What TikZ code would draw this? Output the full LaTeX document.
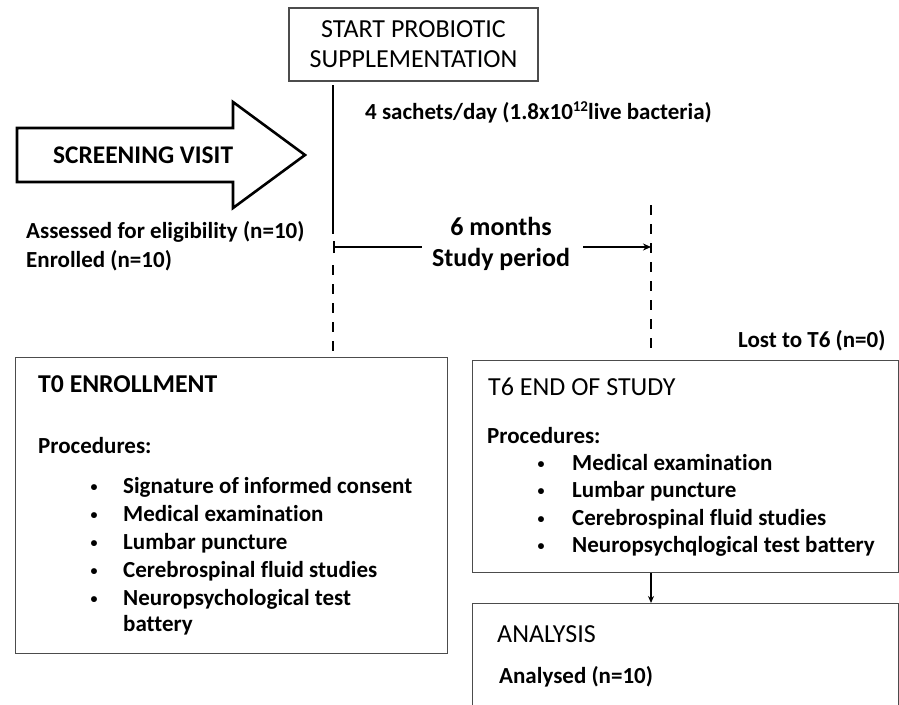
\documentclass[tikz,border=0pt]{standalone}
\usepackage{fontspec}
\setmainfont{Carlito}[Ligatures=NoCommon]
\usetikzlibrary{arrows.meta}

\tikzset{
  box/.style={draw=black!70, line width=1.1pt, inner sep=0pt},
  head/.style={anchor=base west, inner sep=0pt, font=\fontsize{26}{30}\selectfont},
  txt/.style={anchor=base west, inner sep=0pt, font=\bfseries\fontsize{23}{28}\selectfont},
  dot/.style={anchor=base, inner sep=0pt, font=\bfseries\fontsize{14}{16}\selectfont},
  dashline/.style={line width=1.6pt, dash pattern=on 10pt off 9pt},
}

\begin{document}
\begin{tikzpicture}[x=1pt, y=-1pt]
    \clip (0,0) rectangle (899,704);

    % start box and screening arrow
    \node[box, minimum width=249, minimum height=73, align=center,
      font=\fontsize{26}{30}\selectfont] (start) at (413.5,44.5)
      {START PROBIOTIC\\SUPPLEMENTATION};
    \draw[line width=2.6pt, line join=miter] (17,128) -- (233,128) -- (233,102) -- (305,155)
      -- (233,208) -- (233,182) -- (17,182) -- cycle;
    \node[txt, font=\bfseries\fontsize{25.4}{30}\selectfont] (screen) at (53,163) {SCREENING VISIT};
    \node[txt] (dose) at (365,119) {4 sachets/day (1.8x10{\fontsize{15}{16}\selectfont\raisebox{8pt}{12}}live bacteria)};
    \node[txt] (assessed) at (26,238) {Assessed for eligibility (n=10)};
    \node[txt] (enrolled) at (26,267) {Enrolled (n=10)};

    % time line
    \coordinate (t0a) at (333,85);
    \coordinate (t0b) at (333,234);
    \coordinate (t0c) at (333,265);
    \coordinate (t0d) at (333,352);
    \coordinate (t6a) at (651,205);
    \coordinate (t6b) at (651,350);
    \draw[line width=1.6pt] (t0a) -- (t0b);
    \draw[dashline] (t0c) -- (t0d);
    \draw[dashline] (t6a) -- (t6b);
    \node[anchor=base, inner sep=0pt, font=\bfseries\fontsize{26}{30}\selectfont]
      (months) at (501,235) {6 months};
    \node[anchor=base, inner sep=0pt, font=\bfseries\fontsize{26}{30}\selectfont]
      (period) at (501,266) {Study period};
    \coordinate (pl) at (422,247);
    \coordinate (pr) at (583,247);
    \draw[line width=1.6pt, {Bar[width=12pt]}-] (333,247) -- (pl);
    \draw[line width=1.6pt, -{Stealth[length=8pt, width=7pt]}] (pr) -- (t6a |- pr);
    \node[txt] (lost) at (738,347) {Lost to T6 (n=0)};

    % T0 enrollment
    \node[box, anchor=north west, minimum width=432, minimum height=296] (t0) at (15,357) {};
    \node[head, font=\bfseries\fontsize{25.7}{30}\selectfont] (t0title) at (38,392) {T0 ENROLLMENT};
    \node[txt] (t0proc) at (38,453) {Procedures:};
    \foreach \y/\item in {493/Signature of informed consent, 521/Medical examination,
        549/Lumbar puncture, 577/Cerebrospinal fluid studies, 605/Neuropsychological test}
      {\node[dot] at (94,\y-2) {\textbullet};
       \node[txt] at (123,\y) {\item};}
    \node[txt] (t0last) at (123,631) {battery};

    % T6 end of study
    \node[box, anchor=north west, minimum width=426, minimum height=212] (t6) at (472,360) {};
    \node[head] (t6title) at (488,395) {T6 END OF STUDY};
    \node[txt] (t6proc) at (487,443) {Procedures:};
    \foreach \y/\item in {470/Medical examination, 497/Lumbar puncture,
        525/Cerebrospinal fluid studies, 552/Neuropsychqlogical test battery}
      {\node[dot] at (541,\y-2) {\textbullet};
       \node[txt] at (572,\y) {\item};}

    % analysis
    \node[box, anchor=north west, minimum width=426, minimum height=140] (ana) at (472,603) {};
    \node[head] (anatitle) at (497,642) {ANALYSIS};
    \node[txt] (anatext) at (499,683) {Analysed (n=10)};
    \draw[line width=1.4pt, -{Stealth[length=7pt, width=6pt]}] (t6.south -| t6a) -- (ana.north -| t6a);
\end{tikzpicture}
\end{document}
